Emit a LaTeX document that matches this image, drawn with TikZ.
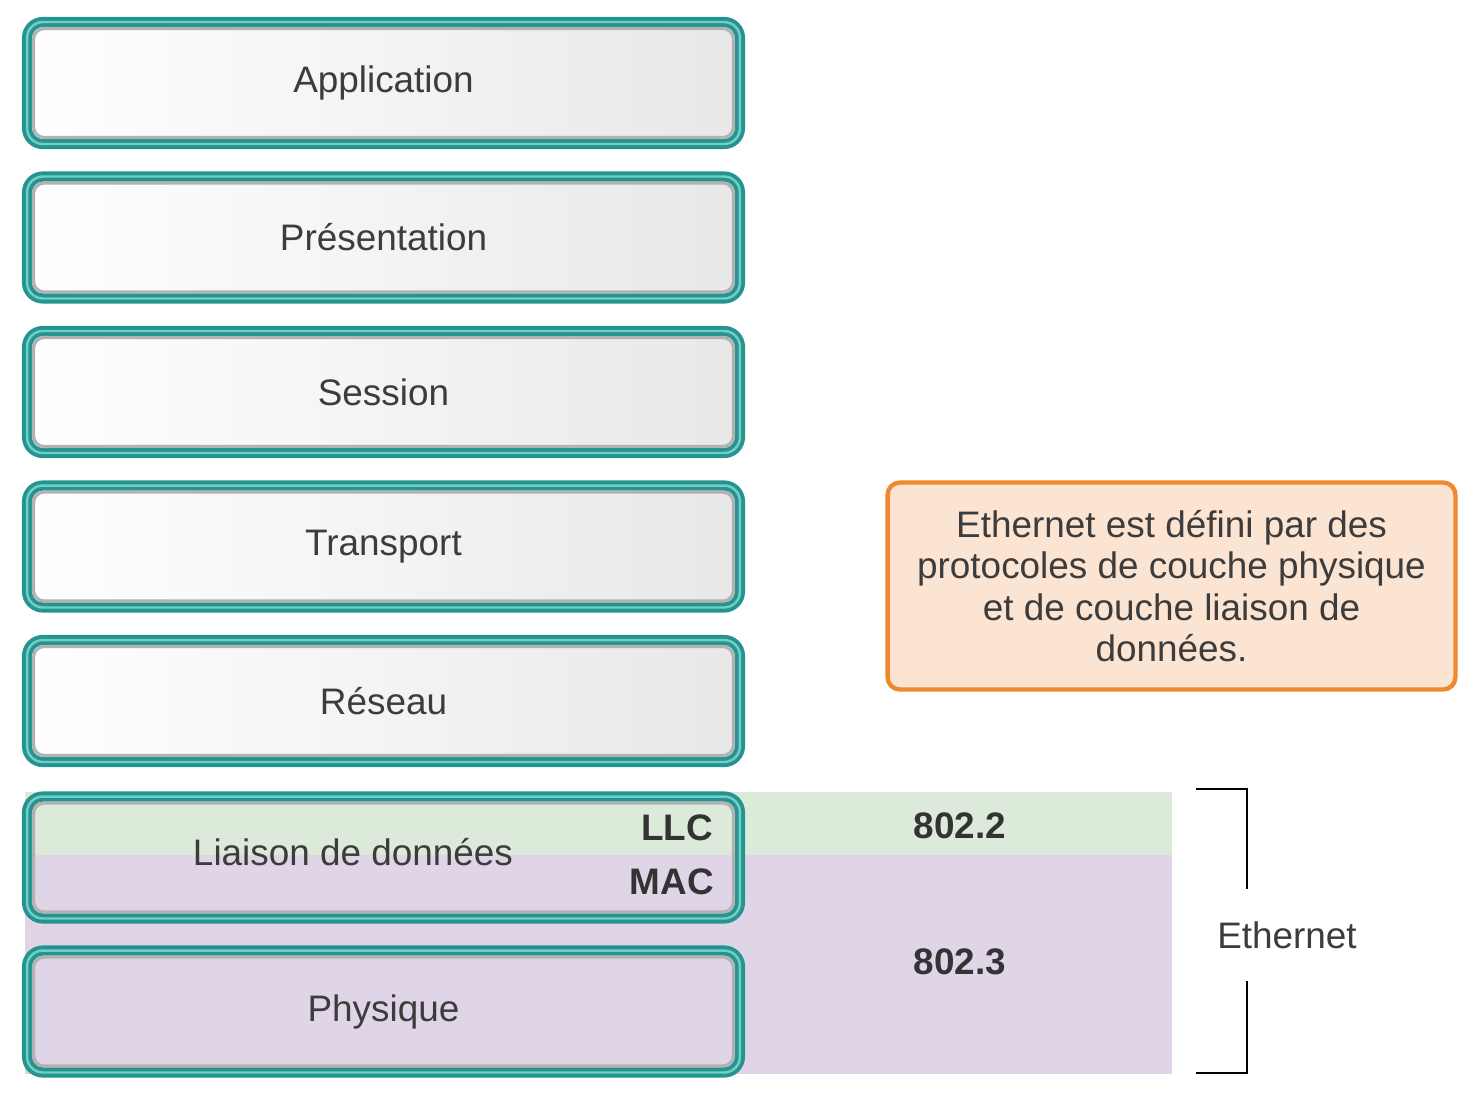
\documentclass[tikz,border=0pt]{standalone}
\usepackage{fontspec}
\setmainfont{Liberation Sans}
\usetikzlibrary{positioning}
\definecolor{tealline}{HTML}{24948F}
\definecolor{teallight}{HTML}{74CCC6}
\definecolor{llcgreen}{HTML}{DCEBD9}
\definecolor{macpurple}{HTML}{E0D5E7}
\definecolor{notefill}{HTML}{FCE4D2}
\definecolor{noteline}{HTML}{F0882E}
\definecolor{txtgray}{HTML}{3C3C3C}

\tikzset{
    every node/.style={font=\fontsize{21}{23.5}\selectfont, text=txtgray},
    layer/.style={draw=tealline, line width=2.2pt, double=teallight, double distance=1.4pt,
        rounded corners=9pt, minimum width=14.26cm, minimum height=2.44cm, inner sep=0pt},
    shaded/.style={left color=white, right color=black!9},
    innershade/.style={draw=black!30, line width=1.8pt, rounded corners=6pt},
    sublayer/.style={font=\fontsize{21}{23.5}\selectfont\bfseries, text=black!80},
    note/.style={draw=noteline, fill=notefill, line width=2.5pt, rounded corners=7pt,
        minimum width=11.36cm, minimum height=4.14cm, align=center},
    bracket/.style={draw=black, line width=1.1pt}
}

\begin{document}
\begin{tikzpicture}[x=0.02cm, y=-0.02cm]
    \useasboundingbox (0,0) rectangle (1476,1099);

    \fill[llcgreen] (25,792) rectangle (1172,855);
    \fill[macpurple] (25,855) rectangle (1172,1074);

    \foreach \i/\nm/\txt in {0/app/Application, 1/pres/Présentation, 2/sess/Session,
                             3/trans/Transport, 4/res/Réseau}{
        \node[layer, shaded] (\nm) at (383.5,83+154.5*\i) {\txt};
        \draw[innershade] ([shift={(4.8pt,-4.8pt)}]\nm.north west) rectangle ([shift={(-4.8pt,4.8pt)}]\nm.south east);
    }
    \node[layer] (liai) at (383.5,857.5) {};
    \draw[innershade] ([shift={(4.8pt,-4.8pt)}]liai.north west) rectangle ([shift={(-4.8pt,4.8pt)}]liai.south east);
    \node[layer] (phys) at (383.5,1011.5) {Physique};
    \draw[innershade] ([shift={(4.8pt,-4.8pt)}]phys.north west) rectangle ([shift={(-4.8pt,4.8pt)}]phys.south east);

    \node (liaitxt) at (353,852) {Liaison de données};
    \node[sublayer, anchor=east] (llc) at (719,828) {LLC};
    \node[sublayer, anchor=east] (mac) at (720,882) {MAC};
    \node[sublayer] (ieee2) at (960,826) {802.2};
    \node[sublayer] (ieee3) at (960,962) {802.3};

    \node[note] (info) at (1171.5,586) {Ethernet est défini par des\\protocoles de couche physique\\et de couche liaison de\\données.};

    \node (eth) at (1287,935) {Ethernet};
    \coordinate (brtop) at (1196,789);
    \coordinate (brbot) at (1196,1073);
    \draw[bracket] (brtop) -| ([yshift=15pt]eth.north -| 1247,0);
    \draw[bracket] (brbot) -| ([yshift=-15pt]eth.south -| 1247,0);
\end{tikzpicture}
\end{document}
